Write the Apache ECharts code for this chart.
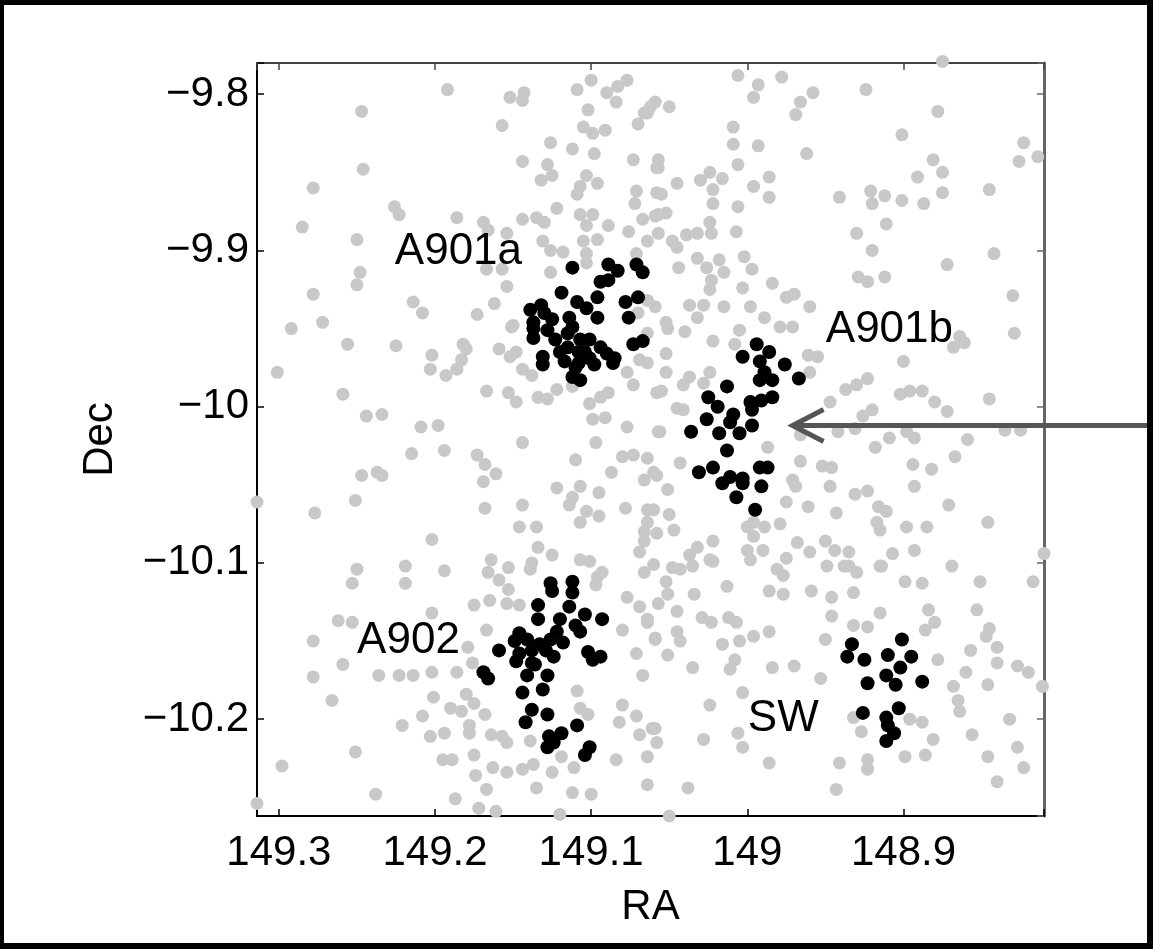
<!DOCTYPE html>
<html>
<head>
<meta charset="utf-8">
<script src="https://cdn.jsdelivr.net/npm/echarts@6/dist/echarts.min.js"></script>
<style>
html,body{margin:0;padding:0;background:#fff;}
#chart{position:absolute;left:0;top:0;width:1153px;height:949px;}
#frame{position:absolute;left:0;top:0;width:1153px;height:949px;box-sizing:border-box;border-style:solid;border-color:#000;border-width:5px 6px 6px 4px;pointer-events:none;}
</style>
</head>
<body>
<div id="chart"></div>
<div id="frame"></div>
<script>
// ---- axis ranges ----
const raRange = [148.81, 149.314];
const decRange = [-10.262, -9.78];
const axisNames = { x: 'RA', y: 'Dec' };

// ---- field galaxies (grey), [RA, Dec] ----
const fieldNW = [
[149.192,-9.797],[149.247,-9.811],[149.152,-9.802],[149.143,-9.799],[149.144,-9.804],[149.109,-9.797],[149.100,-9.791],[149.090,-9.799],[149.083,-9.795],[149.077,-9.791],
[149.084,-9.805],[149.102,-9.810],[149.062,-9.808],[149.066,-9.812],[149.157,-9.820],[149.105,-9.821],[149.099,-9.825],[149.091,-9.823],[149.070,-9.819],[149.126,-9.831],
[149.112,-9.835],[149.098,-9.838],[149.073,-9.842],[149.058,-9.847],[149.144,-9.843],[149.128,-9.845],[149.125,-9.852],[149.132,-9.855],[149.246,-9.848],[149.278,-9.860],
[149.103,-9.852],[149.096,-9.857],[149.107,-9.859],[149.109,-9.864],[149.071,-9.862],[149.072,-9.870],[149.058,-9.863],[149.285,-9.885],[149.226,-9.872],[149.223,-9.877],
[149.186,-9.879],[149.169,-9.882],[149.166,-9.887],[149.154,-9.889],[149.144,-9.880],[149.135,-9.879],[149.130,-9.882],[149.122,-9.873],[149.107,-9.877],[149.099,-9.877],
[149.103,-9.884],[149.089,-9.884],[149.076,-9.888],[149.067,-9.880],[149.059,-9.878],[149.064,-9.894],[149.105,-9.894],[149.096,-9.893],[149.131,-9.894],[149.126,-9.900],
[149.118,-9.901],[149.103,-9.902],[149.071,-9.902],[149.250,-9.893],[149.167,-9.912],[149.157,-9.912],[149.154,-9.923],[149.126,-9.914],[149.103,-9.908],[149.248,-9.914],
[149.250,-9.922],[149.278,-9.928],[149.214,-9.933],[149.208,-9.940],[149.162,-9.934],[149.173,-9.941],[149.272,-9.946],[149.292,-9.950],[149.150,-9.948],[149.070,-9.940],
[149.064,-9.932]
];
const fieldNE = [
[149.006,-9.788],[148.993,-9.794],[148.996,-9.802],[148.978,-9.789],[148.966,-9.805],[148.958,-9.799],[148.969,-9.813],[148.924,-9.797],[148.875,-9.779],[148.878,-9.811],
[149.059,-9.805],[149.064,-9.812],[149.050,-9.808],[149.009,-9.821],[149.009,-9.832],[148.993,-9.833],[148.962,-9.838],[148.901,-9.826],[148.823,-9.831],[148.826,-9.843],
[148.814,-9.840],[149.057,-9.842],[149.057,-9.847],[149.006,-9.845],[149.045,-9.857],[149.055,-9.864],[149.030,-9.855],[149.024,-9.850],[149.016,-9.854],[149.022,-9.861],
[149.022,-9.870],[148.996,-9.859],[148.986,-9.853],[148.986,-9.866],[149.006,-9.872],[148.881,-9.842],[148.875,-9.850],[148.891,-9.853],[148.875,-9.863],[148.887,-9.870],
[148.845,-9.861],[148.941,-9.866],[148.921,-9.862],[148.912,-9.865],[148.920,-9.870],[148.901,-9.868],[148.911,-9.883],[148.930,-9.889],[148.920,-9.900],[148.929,-9.917],
[148.923,-9.920],[148.912,-9.917],[148.872,-9.909],[148.842,-9.902],[148.830,-9.929],[148.829,-9.953],[149.052,-9.876],[149.057,-9.877],[149.057,-9.889],[149.048,-9.894],
[149.045,-9.898],[149.039,-9.890],[149.032,-9.889],[149.024,-9.882],[149.023,-9.889],[149.007,-9.888],[149.032,-9.905],[149.026,-9.911],[149.018,-9.906],[149.015,-9.914],
[149.044,-9.911],[149.023,-9.919],[149.024,-9.925],[149.002,-9.904],[148.997,-9.912],[149.003,-9.924],[148.984,-9.921],[148.975,-9.930],[148.970,-9.928],[148.960,-9.936],
[149.059,-9.936],[149.037,-9.935],[149.028,-9.935],[149.032,-9.943],[149.015,-9.936],[148.998,-9.936],[149.052,-9.946],[149.040,-9.952],[148.989,-9.943],[148.979,-9.949],
[148.971,-9.949],[149.005,-9.951],[148.864,-9.955]
];
const fieldMidW = [
[149.256,-9.960],[149.225,-9.961],[149.301,-9.978],[149.259,-9.992],[149.202,-9.967],[149.203,-9.976],[149.193,-9.980],[149.186,-9.976],[149.183,-9.970],[149.180,-9.963],
[149.182,-9.960],[149.159,-9.963],[149.151,-9.949],[149.152,-9.968],[149.148,-9.965],[149.144,-9.976],[149.138,-9.980],[149.167,-9.990],[149.153,-9.991],[149.148,-9.997],
[149.134,-9.994],[149.128,-9.995],[149.122,-9.989],[149.112,-9.987],[149.101,-9.998],[149.094,-9.994],[149.089,-9.991],[149.099,-10.008],[149.091,-10.007],[149.077,-10.013],
[149.073,-9.986],[149.077,-9.978],[149.069,-9.970],[149.064,-9.953],[149.058,-9.991],[149.057,-10.016],[149.244,-10.006],[149.234,-10.005],[149.209,-10.013],[149.198,-10.012],
[149.215,-10.030],[149.194,-10.028],[149.173,-10.031],[149.168,-10.037],[149.161,-10.043],[149.169,-10.048],[149.144,-10.023],[149.097,-10.023],[149.110,-10.034],[149.087,-10.042],
[149.080,-10.032],[149.073,-10.031],[149.064,-10.033],[149.058,-10.044],[149.066,-10.047],[149.247,-10.044],[149.237,-10.042],[149.234,-10.044],[149.314,-10.061],[149.251,-10.060],
[149.277,-10.068],[149.122,-10.052],[149.107,-10.051],[149.112,-10.058],[149.114,-10.063],[149.095,-10.055],[149.103,-10.067],[149.107,-10.074],[149.095,-10.070],[149.078,-10.065],
[149.064,-10.066],[149.066,-10.080],[149.069,-10.093],[149.168,-10.065],[149.144,-10.063],[149.146,-10.077],[149.135,-10.077],[149.134,-10.090],[149.125,-10.095],[149.138,-10.100],
[149.202,-10.085],[149.164,-10.098],[149.166,-10.106],[149.153,-10.103],[149.107,-10.098],[149.101,-10.099],[149.093,-10.106],[149.066,-10.106],[149.250,-10.104],[149.219,-10.102],
[149.194,-10.105]
];
const fieldMidE = [
[149.051,-9.950],[149.022,-9.958],[149.008,-9.960],[149.052,-9.966],[149.064,-9.972],[149.052,-9.978],[149.037,-9.981],[149.041,-9.986],[149.028,-9.985],[149.024,-9.978],
[149.055,-9.990],[149.045,-10.001],[149.041,-10.002],[149.056,-10.016],[148.955,-9.968],[148.961,-9.967],[148.960,-9.978],[148.900,-9.971],[148.868,-9.962],[148.861,-9.959],
[148.937,-9.989],[148.930,-9.986],[148.923,-9.982],[148.947,-9.997],[148.902,-9.992],[148.896,-9.990],[148.888,-9.990],[148.880,-9.997],[148.872,-10.003],[148.845,-9.995],
[148.920,-10.002],[148.926,-10.006],[148.931,-10.014],[148.942,-10.016],[148.898,-10.016],[148.893,-10.020],[148.909,-10.020],[148.918,-10.026],[148.835,-10.015],[148.825,-10.015],
[148.859,-10.021],[148.867,-10.032],[148.966,-10.018],[148.987,-10.026],[148.966,-10.035],[148.952,-10.038],[148.946,-10.039],[148.971,-10.047],[148.969,-10.051],[148.947,-10.051],
[148.894,-10.037],[148.882,-10.040],[148.893,-10.051],[148.931,-10.056],[148.923,-10.054],[148.916,-10.064],[148.911,-10.067],[148.943,-10.068],[148.961,-10.064],[148.975,-10.061],
[148.871,-10.063],[148.846,-10.074],[149.060,-10.042],[149.043,-10.036],[149.051,-10.053],[149.060,-10.066],[149.064,-10.074],[149.050,-10.069],[149.047,-10.079],[149.058,-10.081],
[149.066,-10.086],[149.032,-10.090],[149.022,-10.086],[149.037,-10.095],[149.024,-10.098],[149.048,-10.103],[149.000,-10.077],[148.996,-10.074],[148.989,-10.077],[148.996,-10.083],
[149.000,-10.092],[148.990,-10.092],[148.998,-10.098],[148.979,-10.075],[148.975,-10.097],[148.968,-10.087],[148.960,-10.093],[148.950,-10.086],[148.944,-10.092],[148.935,-10.093],
[148.949,-10.102],[148.935,-10.102],[148.917,-10.074],[148.915,-10.079],[148.898,-10.077],[148.885,-10.077],[148.907,-10.094],[148.893,-10.092],[148.914,-10.102],[148.869,-10.102],
[148.810,-10.094]
];
const fieldSW = [
[149.253,-10.113],[149.219,-10.113],[149.202,-10.132],[149.262,-10.137],[149.253,-10.138],[149.278,-10.150],[149.167,-10.143],[149.175,-10.127],[149.165,-10.124],[149.154,-10.126],
[149.146,-10.127],[149.153,-10.117],[149.159,-10.111],[149.139,-10.104],[149.259,-10.165],[149.278,-10.173],[149.236,-10.172],[149.223,-10.172],[149.214,-10.172],[149.202,-10.170],
[149.186,-10.170],[149.179,-10.154],[149.176,-10.164],[149.266,-10.188],[149.221,-10.204],[149.208,-10.198],[149.201,-10.186],[149.190,-10.193],[149.183,-10.195],[149.180,-10.184],
[149.175,-10.190],[149.168,-10.197],[149.178,-10.204],[149.178,-10.209],[149.203,-10.211],[149.194,-10.209],[149.164,-10.210],[149.157,-10.211],[149.154,-10.215],[149.139,-10.214],
[149.251,-10.221],[149.298,-10.230],[149.195,-10.226],[149.189,-10.226],[149.175,-10.223],[149.174,-10.236],[149.163,-10.231],[149.154,-10.234],[149.144,-10.232],[149.137,-10.229],
[149.125,-10.234],[149.119,-10.224],[149.111,-10.231],[149.109,-10.182],[149.107,-10.193],[149.102,-10.197],[149.080,-10.191],[149.082,-10.202],[149.071,-10.198],[149.061,-10.206],
[149.069,-10.210],[149.064,-10.224],[149.064,-10.242],[149.080,-10.143],[149.071,-10.158],[149.067,-10.172],[149.077,-10.122],[149.069,-10.128],[149.064,-10.136],[149.059,-10.148],
[149.096,-10.109],[149.097,-10.114],[149.238,-10.248],[149.314,-10.254],[149.187,-10.251],[149.167,-10.245],[149.172,-10.257],[149.161,-10.259],[149.135,-10.244],[149.120,-10.261],
[149.112,-10.247],[149.100,-10.248],[149.084,-10.226],[149.050,-10.262]
];
const fieldSE = [
[149.060,-10.101],[149.052,-10.112],[149.043,-10.104],[149.035,-10.102],[149.022,-10.099],[149.013,-10.115],[149.034,-10.120],[149.051,-10.120],[149.057,-10.126],[149.045,-10.131],
[149.064,-10.138],[149.029,-10.135],[149.023,-10.138],[149.012,-10.135],[149.007,-10.138],[149.045,-10.144],[149.059,-10.149],[149.043,-10.150],[149.016,-10.152],[149.005,-10.150],
[148.996,-10.147],[148.986,-10.144],[149.051,-10.159],[149.008,-10.162],[149.011,-10.168],[149.035,-10.167],[149.003,-10.183],[148.984,-10.167],[148.970,-10.166],[148.953,-10.174],
[148.950,-10.149],[148.981,-10.104],[148.977,-10.108],[148.986,-10.118],[148.977,-10.120],[148.959,-10.118],[148.946,-10.122],[148.932,-10.119],[148.946,-10.134],[148.938,-10.102],
[148.930,-10.106],[148.915,-10.102],[148.899,-10.112],[148.888,-10.113],[148.851,-10.112],[148.817,-10.112],[148.853,-10.130],[148.884,-10.130],[148.915,-10.132],[148.932,-10.140],
[148.923,-10.141],[148.886,-10.143],[148.880,-10.138],[148.845,-10.142],[148.847,-10.147],[148.840,-10.154],[148.857,-10.156],[148.878,-10.162],[148.860,-10.170],[148.840,-10.164],
[148.827,-10.166],[148.820,-10.170],[148.811,-10.179],[148.868,-10.179],[148.865,-10.188],[148.846,-10.178],[148.864,-10.195],[148.832,-10.200],[148.827,-10.218],[148.823,-10.231],
[148.856,-10.210],[148.846,-10.224],[148.840,-10.240],[148.896,-10.200],[148.888,-10.202],[148.881,-10.213],[148.886,-10.223],[148.899,-10.224],[148.932,-10.199],[148.927,-10.208],
[148.941,-10.228],[148.923,-10.226],[148.923,-10.232],[148.943,-10.245],[149.059,-10.206],[149.058,-10.215],[149.038,-10.244],[149.028,-10.213],[149.006,-10.209],[149.003,-10.218],
[148.986,-10.228],[149.024,-10.191]
];

// ---- cluster members (black), [RA, Dec] ----
const a901a = [
[149.112,-9.911],[149.089,-9.909],[149.083,-9.913],[149.071,-9.909],[149.067,-9.914],[149.094,-9.920],[149.089,-9.919],[149.119,-9.927],[149.096,-9.930],[149.109,-9.933],
[149.103,-9.937],[149.078,-9.933],[149.070,-9.930],[149.139,-9.938],[149.132,-9.935],[149.130,-9.940],[149.125,-9.944],[149.137,-9.946],[149.114,-9.943],[149.096,-9.943],
[149.076,-9.943],[149.137,-9.950],[149.137,-9.956],[149.123,-9.957],[149.115,-9.953],[149.112,-9.949],[149.107,-9.957],[149.101,-9.957],[149.094,-9.962],[149.090,-9.966],
[149.115,-9.962],[149.108,-9.965],[149.131,-9.968],[149.117,-9.971],[149.108,-9.972],[149.101,-9.969],[149.085,-9.969],[149.073,-9.960],[149.067,-9.958],[149.131,-9.973],
[149.110,-9.975],[149.107,-9.983],[149.112,-9.981],[149.086,-9.972],[149.104,-9.965],[149.120,-9.965],[149.098,-9.973],[149.128,-9.951]
];
const a901b = [
[148.994,-9.960],[149.003,-9.968],[148.986,-9.965],[148.992,-9.971],[148.976,-9.973],[148.989,-9.978],[148.984,-9.983],[148.992,-9.983],[148.967,-9.982],[149.013,-9.987],
[149.025,-9.994],[149.019,-10.000],[148.998,-9.997],[148.984,-9.994],[148.991,-9.996],[148.997,-10.002],[149.009,-10.005],[149.026,-10.008],[149.011,-10.010],[148.997,-10.012],
[149.036,-10.016],[149.018,-10.017],[149.005,-10.017],[149.013,-10.028],[149.031,-10.042],[149.022,-10.039],[149.011,-10.045],[149.003,-10.046],[149.016,-10.049],[148.992,-10.039],
[148.987,-10.039],[148.991,-10.051],[149.007,-10.058],[148.995,-10.066],[149.003,-10.049]
];
const a902 = [
[149.126,-10.113],[149.125,-10.118],[149.112,-10.112],[149.112,-10.119],[149.134,-10.127],[149.114,-10.128],[149.104,-10.133],[149.093,-10.136],[149.134,-10.136],[149.120,-10.136],
[149.110,-10.140],[149.107,-10.144],[149.122,-10.144],[149.146,-10.145],[149.141,-10.149],[149.149,-10.150],[149.126,-10.149],[149.118,-10.151],[149.159,-10.156],[149.146,-10.158],
[149.138,-10.156],[149.129,-10.156],[149.124,-10.160],[149.148,-10.163],[149.138,-10.164],[149.102,-10.157],[149.099,-10.162],[149.094,-10.160],[149.169,-10.170],[149.166,-10.174],
[149.141,-10.172],[149.128,-10.172],[149.144,-10.183],[149.131,-10.181],[149.138,-10.194],[149.128,-10.197],[149.142,-10.202],[149.109,-10.204],[149.127,-10.211],[149.119,-10.209],
[149.128,-10.218],[149.124,-10.215],[149.101,-10.218],[149.104,-10.223],[149.136,-10.165],[149.133,-10.152]
];
const swGroup = [
[148.933,-10.152],[148.936,-10.160],[148.925,-10.162],[148.901,-10.149],[148.910,-10.159],[148.895,-10.160],[148.902,-10.167],[148.911,-10.172],[148.905,-10.178],[148.923,-10.177],
[148.888,-10.176],[148.926,-10.196],[148.911,-10.199],[148.903,-10.193],[148.910,-10.204],[148.906,-10.209],[148.911,-10.214]
];

// ---- annotations ----
const clusterLabels = [
  [149.185, -9.901, 'A901a'],
  [148.909, -9.951, 'A901b'],
  [149.217, -10.150, 'A902'],
  [148.977, -10.200, 'SW']
];
const arrowTip = [148.971, -10.012];

const FONT = '"Liberation Sans", Arial, Helvetica, sans-serif';
const TICK_FS = 42;

function fmtTick(v, neg) {
  const r = Math.round(v * 10) / 10;
  if (Math.abs(v - r) > 1e-6) return '';
  let s = String(r);
  if (neg) s = s.replace('-', '\u2212');
  return s;
}

const chart = echarts.init(document.getElementById('chart'), null, { renderer: 'canvas' });

const baseX = {
  type: 'value', inverse: true, min: raRange[0], max: raRange[1],
  splitNumber: 5, minInterval: 0.1, maxInterval: 0.1,
  splitLine: { show: false }
};
const baseY = {
  type: 'value', min: decRange[0], max: decRange[1],
  splitNumber: 5, minInterval: 0.1, maxInterval: 0.1,
  splitLine: { show: false }
};

const option = {
  backgroundColor: '#fff',
  animation: false,
  grid: { left: 257, right: 109, top: 63, bottom: 133, containLabel: false },
  xAxis: [
    Object.assign({}, baseX, {
      position: 'bottom',
      axisLine: { show: true, onZero: false, lineStyle: { color: '#000', width: 2 } },
      axisTick: { show: true, inside: true, length: 7, lineStyle: { color: '#000', width: 1.5 } },
      axisLabel: { show: true, margin: 16, fontSize: TICK_FS, color: '#000', fontFamily: FONT,
        formatter: v => fmtTick(v, false) },
      name: axisNames.x, nameLocation: 'middle', nameGap: 70,
      nameTextStyle: { fontSize: TICK_FS, color: '#000', fontFamily: FONT }
    }),
    Object.assign({}, baseX, {
      position: 'top',
      axisLine: { show: true, onZero: false, lineStyle: { color: '#444', width: 2 } },
      axisTick: { show: true, inside: true, length: 7, lineStyle: { color: '#444', width: 1.5 } },
      axisLabel: { show: false }
    })
  ],
  yAxis: [
    Object.assign({}, baseY, {
      position: 'left',
      axisLine: { show: true, onZero: false, lineStyle: { color: '#000', width: 2 } },
      axisTick: { show: true, inside: true, length: 7, lineStyle: { color: '#000', width: 1.5 } },
      axisLabel: { show: true, margin: 8, fontSize: TICK_FS, color: '#000', fontFamily: FONT,
        formatter: v => fmtTick(v, true) },
      name: axisNames.y, nameLocation: 'middle', nameGap: 136, nameRotate: 90,
      nameTextStyle: { fontSize: TICK_FS, color: '#000', fontFamily: FONT }
    }),
    Object.assign({}, baseY, {
      position: 'right',
      axisLine: { show: true, onZero: false, lineStyle: { color: '#666', width: 3 } },
      axisTick: { show: true, inside: true, length: 7, lineStyle: { color: '#666', width: 1.5 } },
      axisLabel: { show: false }
    })
  ],
  series: [
    {
      name: 'field', type: 'scatter', xAxisIndex: 0, yAxisIndex: 0,
      data: [].concat(fieldNW, fieldNE, fieldMidW, fieldMidE, fieldSW, fieldSE),
      symbolSize: 13, clip: false, silent: true, z: 2,
      itemStyle: { color: '#c8c8c8', opacity: 1 }
    },
    {
      name: 'members', type: 'scatter', xAxisIndex: 0, yAxisIndex: 0,
      data: [].concat(a901a, a901b, a902, swGroup),
      symbolSize: 14, clip: false, silent: true, z: 3,
      itemStyle: { color: '#000', opacity: 1 }
    },
    {
      name: 'labels', type: 'scatter', xAxisIndex: 0, yAxisIndex: 0,
      data: clusterLabels, symbolSize: 1, clip: false, silent: true, z: 4,
      itemStyle: { color: 'rgba(0,0,0,0)' },
      label: { show: true, position: 'inside', formatter: p => p.data[2],
        fontSize: 44, color: '#000', fontFamily: FONT, opacity: 1 }
    }
  ]
};

chart.setOption(option);

const tip = chart.convertToPixel({ xAxisIndex: 0, yAxisIndex: 0 }, arrowTip);
chart.setOption({
  graphic: [
    { type: 'line', z: 100, silent: true,
      shape: { x1: tip[0] + 3, y1: tip[1], x2: 1150, y2: tip[1] },
      style: { stroke: '#555', lineWidth: 5 } },
    { type: 'polyline', z: 100, silent: true,
      shape: { points: [[tip[0] + 31, tip[1] - 16], [tip[0], tip[1]], [tip[0] + 31, tip[1] + 16]] },
      style: { stroke: '#555', lineWidth: 5, fill: null, lineJoin: 'miter' } }
  ]
});
</script>
</body>
</html>
